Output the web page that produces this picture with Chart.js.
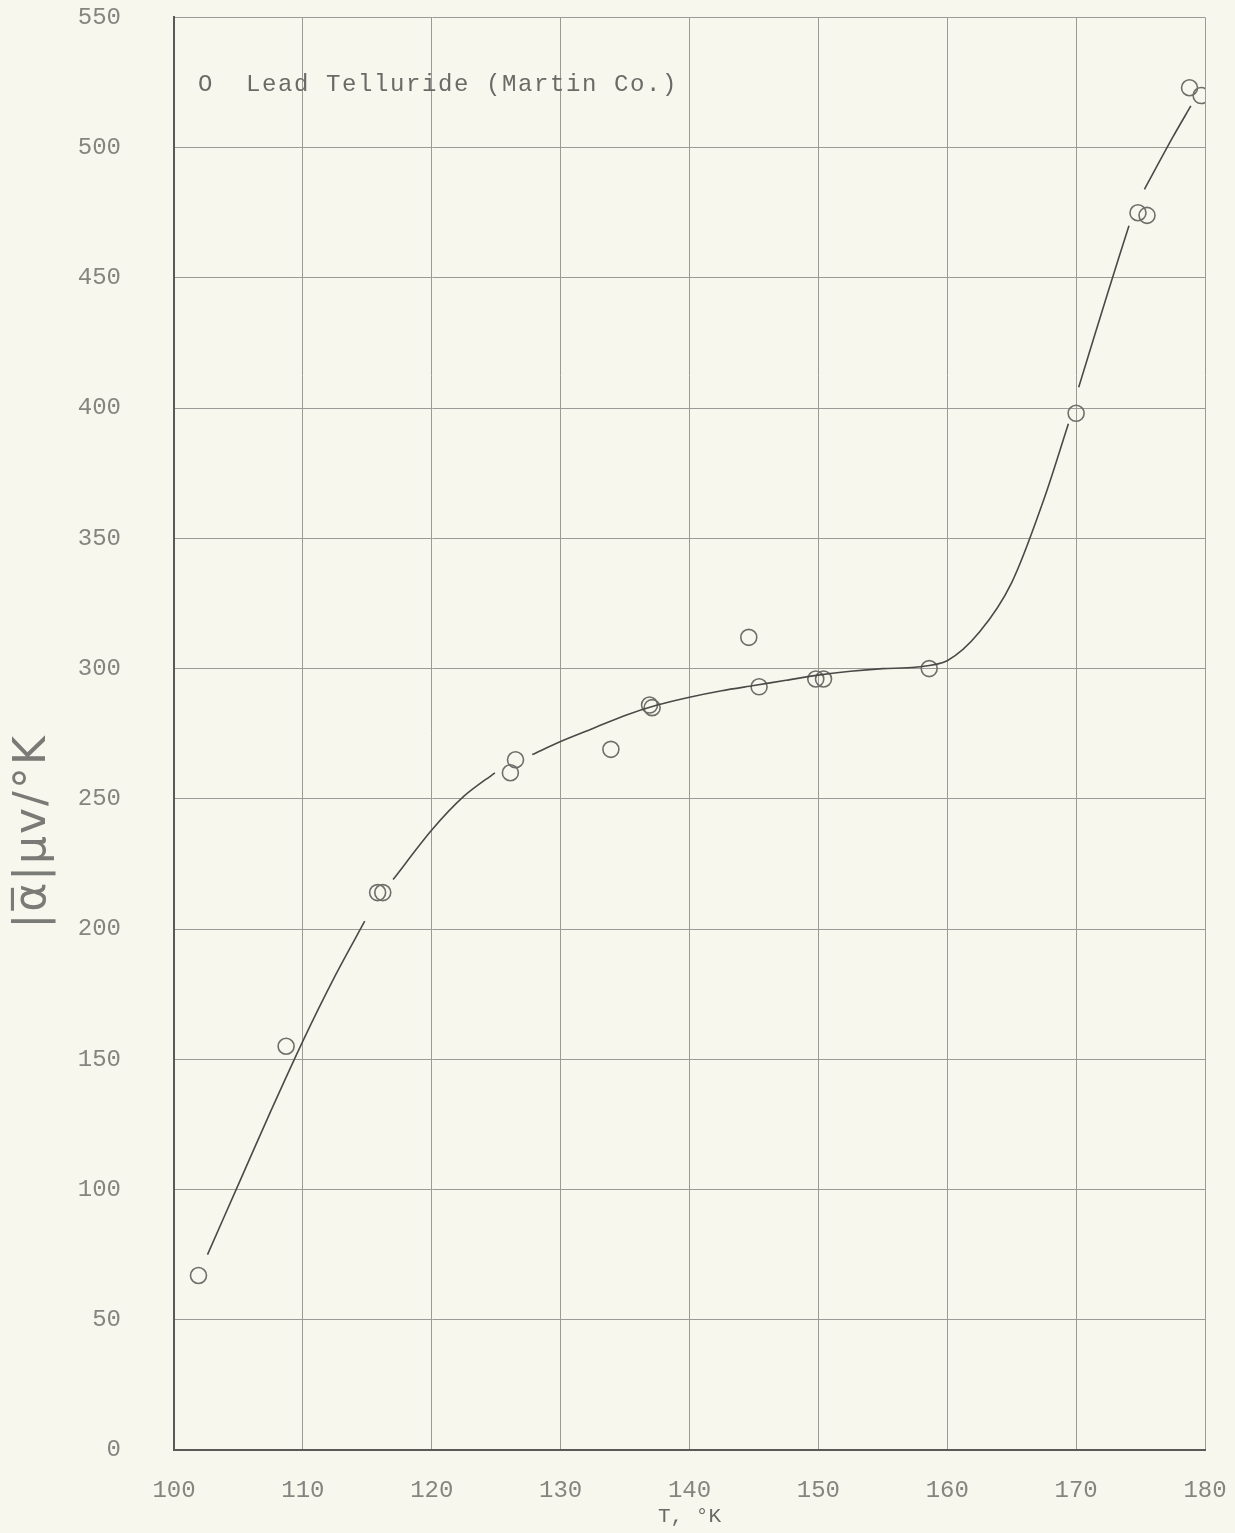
<!DOCTYPE html>
<html>
<head>
<meta charset="utf-8">
<script src="https://cdn.jsdelivr.net/npm/chart.js@4.4.1/dist/chart.umd.min.js"></script>
<style>
  html, body { margin: 0; padding: 0; background: #f8f7ed; }
  #wrap { width: 1235px; height: 1533px; }
</style>
</head>
<body>
<div id="wrap"><canvas id="c" width="1235" height="1533"></canvas></div>
<script>
// Measured points (T in K, |alpha| in microvolt/K)
const measuredT = [101.9, 108.7, 115.8, 116.2, 126.1, 126.5, 133.9, 136.9, 137.1, 144.6, 145.4, 149.8, 150.4, 158.6, 170.0, 174.8, 175.5, 178.8, 179.7];
const measuredAlpha = [67, 155, 214, 214, 260, 265, 269, 286, 285, 312, 293, 296, 296, 300, 398, 475, 474, 523, 520];

// Hand-drawn smooth curve (null = pen gap at a data point)
const curveT = [102.6, 105, 107.5, 110, 112.5, 114.8, 115.6, 117, 120, 122.5, 124.9, 126.3, 127.8, 130, 132.5, 135, 137.5, 140, 142.5, 145, 147.5, 150, 152.5, 155, 157.5, 160, 162.5, 165, 167.5, 169.4, 169.8, 170.2, 172.5, 174.1, 174.7, 175.3, 177.5, 178.9];
const curveAlpha = [75, 102, 130, 157, 182, 203, null, 219, 238, 251, 260, null, 267, 272, 277, 282, 286, 289, 291.5, 293.5, 295.5, 297.5, 299, 300, 300.5, 303, 314, 333, 365, 394, null, 408, 445, 470, null, 484, 504, 516];

const xTicks = [100, 110, 120, 130, 140, 150, 160, 170, 180];
const yTicks = [0, 50, 100, 150, 200, 250, 300, 350, 400, 450, 500, 550];
const legendText = 'O  Lead Telluride (Martin Co.)';
const xTitle = 'T, \u00B0K';
const yTitle = '|\u03B1\u0305|\u03BCv/\u00B0K';

const mono = '"Liberation Mono", "DejaVu Sans Mono", monospace';

const bgPlugin = {
  id: 'bg',
  beforeDraw(chart) {
    const ctx = chart.ctx;
    ctx.save();
    ctx.fillStyle = '#f8f7ed';
    ctx.fillRect(0, 0, chart.width, chart.height);
    ctx.restore();
  }
};

const textPlugin = {
  id: 'texts',
  afterDatasetsDraw(chart) {
    const ctx = chart.ctx;
    const a = chart.chartArea;
    ctx.save();
    ctx.font = '24px ' + mono;
    ctx.letterSpacing = '1.6px';
    ctx.fillStyle = '#6a6a66';
    ctx.textBaseline = 'middle';
    ctx.textAlign = 'left';
    ctx.fillText(legendText, a.left + 24, a.top + 67);
    ctx.restore();

    // y-axis title, hand-lettered, placed left of the axis
    ctx.save();
    ctx.translate(a.left - 140, a.top + 814);
    ctx.rotate(-Math.PI / 2);
    ctx.font = '44px "DejaVu Sans", sans-serif';
    ctx.letterSpacing = '2px';
    ctx.fillStyle = '#7a7a76';
    ctx.textAlign = 'center';
    ctx.textBaseline = 'middle';
    ctx.fillText(yTitle, 0, 0);
    ctx.restore();
  }
};

const curveData = curveT.map((t, i) => ({ x: t, y: curveAlpha[i] }));
const pointData = measuredT.map((t, i) => ({ x: t, y: measuredAlpha[i] }));

new Chart(document.getElementById('c'), {
  type: 'scatter',
  data: {
    datasets: [
      {
        label: 'curve',
        data: curveData,
        showLine: true,
        spanGaps: false,
        borderColor: '#4a4a48',
        borderWidth: 1.6,
        pointRadius: 0,
        tension: 0.3,
        fill: false
      },
      {
        label: 'Lead Telluride (Martin Co.)',
        data: pointData,
        showLine: false,
        pointStyle: 'circle',
        pointRadius: 8,
        pointBorderWidth: 1.6,
        pointBorderColor: '#6e6e6a',
        pointBackgroundColor: 'rgba(0,0,0,0)'
      }
    ]
  },
  options: {
    responsive: false,
    animation: false,
    devicePixelRatio: 1,
    layout: { padding: { top: 3, right: 30, bottom: 4, left: 0 } },
    plugins: {
      legend: { display: false },
      tooltip: { enabled: false }
    },
    scales: {
      x: {
        type: 'linear',
        min: 100,
        max: 180,
        afterBuildTicks(scale) { scale.ticks = xTicks.map(v => ({ value: v })); },
        afterFit(scale) { scale.height = 79; },
        grid: { color: '#9a9a96', lineWidth: 1, drawTicks: true, tickLength: 24, tickColor: 'rgba(0,0,0,0)' },
        border: { color: '#5a5a58', width: 2 },
        ticks: {
          padding: 2,
          color: '#858580',
          font: { family: mono, size: 24 }
        },
        title: {
          display: true,
          text: xTitle,
          color: '#6a6a66',
          font: { family: mono, size: 21 },
          padding: { top: 0, bottom: 0 }
        }
      },
      y: {
        type: 'linear',
        min: 0,
        max: 550,
        afterBuildTicks(scale) { scale.ticks = yTicks.map(v => ({ value: v })); },
        afterFit(scale) { scale.width = 174; },
        grid: { color: '#9a9a96', lineWidth: 1, drawTicks: true, tickLength: 50, tickColor: 'rgba(0,0,0,0)' },
        border: { color: '#5a5a58', width: 2 },
        ticks: {
          padding: 3,
          color: '#858580',
          font: { family: mono, size: 24 }
        },
        title: { display: false }
      }
    }
  },
  plugins: [bgPlugin, textPlugin]
});
</script>
</body>
</html>
